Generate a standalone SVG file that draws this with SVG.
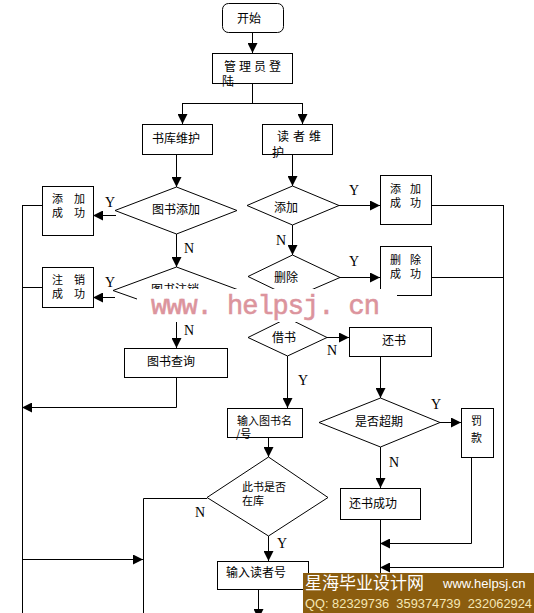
<svg xmlns="http://www.w3.org/2000/svg" width="534" height="613" viewBox="0 0 534 613">
<defs>
<style>
.b{fill:#fff;stroke:#000;stroke-width:1}
.c{fill:none;stroke:#000;stroke-width:1}
.t{font-family:"Noto Sans CJK SC","Noto Sans",sans-serif;font-size:12px;fill:#000}
.s{font-size:11px}
.yn{font-family:"Liberation Serif",serif;font-size:14px;fill:#000}
.q{font-family:"Liberation Sans",sans-serif;font-size:12px;fill:#f6e7b4;white-space:pre}
</style>
<marker id="ah" markerUnits="userSpaceOnUse" markerWidth="10" markerHeight="10" refX="10" refY="5" orient="auto"><path d="M0,0 L10,5 L0,10 z" fill="#000"/></marker>
<clipPath id="cut"><rect x="100" y="250" width="200" height="39"/></clipPath>
</defs>
<rect width="534" height="613" fill="#fff"/>
<g id="connectors">
<path class="c" d="M252.5,32 V53" marker-end="url(#ah)"/>
<path class="c" d="M252.5,83 V103.5 M182.5,103.5 H302.5"/>
<path class="c" d="M182.5,103 V124" marker-end="url(#ah)"/>
<path class="c" d="M302.5,103 V124" marker-end="url(#ah)"/>
<path class="c" d="M176.5,154 V187" marker-end="url(#ah)"/>
<path class="c" d="M292.5,154 V186" marker-end="url(#ah)"/>
<path class="c" d="M116,215.5 H93" marker-end="url(#ah)"/>
<path class="c" d="M176.5,234 V267" marker-end="url(#ah)"/>
<path class="c" d="M115,297.5 H93" marker-end="url(#ah)"/>
<path class="c" d="M176.5,313 V348" marker-end="url(#ah)"/>
<path class="c" d="M176.5,377 V407.5 H22" marker-end="url(#ah)"/>
<path class="c" d="M22.5,205.5 H42 M22.5,287.5 H42 M22.5,205 V613"/>
<path class="c" d="M22,559.5 H143" marker-end="url(#ah)"/>
<path class="c" d="M207,498.5 H143.5 V613"/>
<path class="c" d="M339,205.5 H380" marker-end="url(#ah)"/>
<path class="c" d="M292.5,225 V255" marker-end="url(#ah)"/>
<path class="c" d="M340,277.5 H380" marker-end="url(#ah)"/>
<path class="c" d="M327,337.5 H349" marker-end="url(#ah)"/>
<path class="c" d="M287.5,356 V408" marker-end="url(#ah)"/>
<path class="c" d="M380.5,356 V398" marker-end="url(#ah)"/>
<path class="c" d="M440,422.5 H461" marker-end="url(#ah)"/>
<path class="c" d="M380.5,447 V488" marker-end="url(#ah)"/>
<path class="c" d="M268.5,437 V457" marker-end="url(#ah)"/>
<path class="c" d="M268.5,536 V561" marker-end="url(#ah)"/>
<path class="c" d="M258.5,589 V619" marker-end="url(#ah)"/>
<path class="c" d="M471.5,457 V543.5 H380" marker-end="url(#ah)"/>
<path class="c" d="M431,205.5 H503.5 M431,277.5 H503.5"/>
<path class="c" d="M503.5,205 V567.5 H380" marker-end="url(#ah)"/>
<path class="c" d="M380.5,519 V613"/>
</g>
<g id="start"><rect class="b" x="222.5" y="3.5" width="61" height="29" rx="6"/><text class="t" x="237" y="23">开始</text></g>
<g id="login"><rect class="b" x="212.5" y="53.5" width="80" height="30"/><text class="t" y="71"><tspan x="224">管</tspan><tspan x="239">理</tspan><tspan x="254">员</tspan><tspan x="269">登</tspan></text><text class="t" x="222" y="86">陆</text></g>
<g id="lib"><rect class="b" x="142.5" y="124.5" width="70" height="30"/><text class="t" x="152" y="143">书库维护</text></g>
<g id="reader"><rect class="b" x="262.5" y="124.5" width="70" height="30"/><text class="t" y="141"><tspan x="277">读</tspan><tspan x="293">者</tspan><tspan x="309">维</tspan></text><text class="t" x="272" y="157">护</text></g>
<g id="d_addbook"><polygon class="b" points="115,210.5 176.5,187 237,210.5 176.5,234"/><text class="t" x="152" y="214">图书添加</text></g>
<g id="addok_l"><rect class="b" x="42.5" y="186.5" width="51" height="49"/><text class="t s" y="203"><tspan x="52">添</tspan><tspan x="74">加</tspan></text><text class="t s" y="217"><tspan x="52">成</tspan><tspan x="74">功</tspan></text></g>
<g id="d_delbook"><polygon class="b" points="113,290.5 176.5,267 240,290.5 176.5,313"/><text class="t" x="151" y="294" clip-path="url(#cut)">图书注销</text></g>
<g id="delok_l"><rect class="b" x="42.5" y="267.5" width="51" height="40"/><text class="t s" y="284"><tspan x="52">注</tspan><tspan x="74">销</tspan></text><text class="t s" y="298"><tspan x="52">成</tspan><tspan x="74">功</tspan></text></g>
<g id="query"><rect class="b" x="124.5" y="348.5" width="103" height="29"/><text class="t" x="147" y="366">图书查询</text></g>
<g id="d_add"><polygon class="b" points="247,205.5 292.5,186 339,205.5 292.5,225"/><text class="t" x="274" y="212">添加</text></g>
<g id="addok_r"><rect class="b" x="380.5" y="175.5" width="51" height="49"/><text class="t s" y="193"><tspan x="390">添</tspan><tspan x="410">加</tspan></text><text class="t s" y="207"><tspan x="390">成</tspan><tspan x="410">功</tspan></text></g>
<g id="d_del"><polygon class="b" points="248,276.5 292.5,255 340,277.5 292.5,298"/><text class="t" x="274" y="282">删除</text></g>
<g id="delok_r"><rect class="b" x="380.5" y="246.5" width="51" height="49"/><text class="t s" y="264"><tspan x="390">删</tspan><tspan x="410">除</tspan></text><text class="t s" y="278"><tspan x="390">成</tspan><tspan x="410">功</tspan></text></g>
<g id="d_borrow"><polygon class="b" points="248,337.5 287.5,318 327,337.5 287.5,356"/><text class="t" x="272" y="342">借书</text></g>
<g id="return"><rect class="b" x="349.5" y="327.5" width="82" height="29"/><text class="t" x="382" y="345">还书</text></g>
<g id="d_overdue"><polygon class="b" points="319,422.5 380.5,398 440,422.5 380.5,447"/><text class="t" x="355" y="426">是否超期</text></g>
<g id="fine"><rect class="b" x="461.5" y="408.5" width="32" height="49"/><text class="t s" x="471" y="425">罚</text><text class="t s" x="471" y="442">款</text></g>
<g id="inputbook"><rect class="b" x="227.5" y="408.5" width="75" height="29"/><text class="t s" x="237" y="425">输入图书名</text><text class="t s" x="236" y="438">/号</text></g>
<g id="d_instock"><polygon class="b" points="207,497.5 268.5,457 328,497.5 268.5,536"/><text class="t s" x="242" y="491">此书是否</text><text class="t s" x="242" y="505">在库</text></g>
<g id="returnok"><rect class="b" x="340.5" y="488.5" width="80" height="31"/><text class="t" x="349" y="508">还书成功</text></g>
<g id="inputreader"><rect class="b" x="217.5" y="561.5" width="91" height="28"/><text class="t" x="226" y="577">输入读者号</text></g>
<g id="labels">
<text class="yn" x="105" y="207">Y</text>
<text class="yn" x="184" y="253">N</text>
<text class="yn" x="105" y="287">Y</text>
<text class="yn" x="184" y="335">N</text>
<text class="yn" x="349" y="195">Y</text>
<text class="yn" x="276" y="245">N</text>
<text class="yn" x="349" y="266">Y</text>
<text class="yn" x="327" y="355">N</text>
<text class="yn" x="298" y="385">Y</text>
<text class="yn" x="431" y="409">Y</text>
<text class="yn" x="389" y="467">N</text>
<text class="yn" x="195" y="517">N</text>
<text class="yn" x="277" y="548">Y</text>
</g>
<g id="watermark">
<rect x="137" y="289" width="260" height="33" fill="#fff"/>
<text x="151" y="314" font-family="Liberation Mono,monospace" font-size="27" fill="#dc949d" stroke="#dc949d" stroke-width="0.6" textLength="229" lengthAdjust="spacing">www. helpsj. cn</text>
</g>
<g id="banner">
<rect x="303" y="573" width="231" height="40" fill="#8b5d0f"/>
<text x="305" y="589" font-family="Noto Sans CJK SC,sans-serif" font-size="17" fill="#fff">星海毕业设计网</text>
<text x="443" y="588" font-family="Liberation Sans,sans-serif" font-size="13" fill="#fff">www.helpsj.cn</text>
<text class="q" x="305" y="608" textLength="227" lengthAdjust="spacingAndGlyphs" xml:space="preserve">QQ: 82329736  359374739  232062924</text>
</g>
</svg>
